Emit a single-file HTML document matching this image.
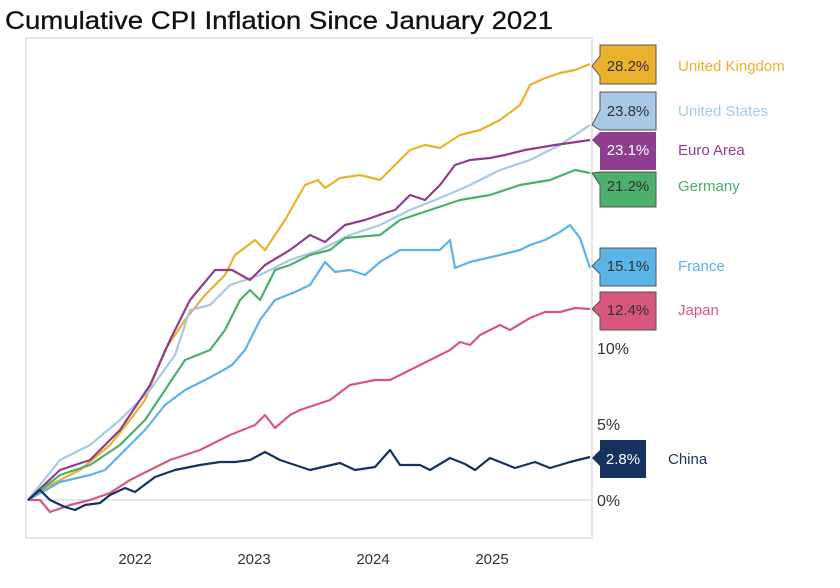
<!DOCTYPE html>
<html><head><meta charset="utf-8"><style>
body{margin:0;background:#fff;width:840px;height:588px;overflow:hidden}
svg{display:block;font-family:"Liberation Sans",sans-serif}
</style></head><body>
<svg width="840" height="588" viewBox="0 0 840 588">
<text x="5" y="29" font-size="25" fill="#111" stroke="#111" stroke-width="0.3" textLength="548" lengthAdjust="spacingAndGlyphs">Cumulative CPI Inflation Since January 2021</text>
<rect x="26" y="38" width="566" height="500" fill="none" stroke="#ddd" stroke-width="1.5"/>
<line x1="26" y1="500" x2="592" y2="500" stroke="#ddd" stroke-width="1.5"/>
<g font-size="16" fill="#333">
<text x="597" y="354">10%</text><text x="597" y="430">5%</text><text x="597" y="506">0%</text>
</g>
<g font-size="15" fill="#333">
<text x="135" y="564" text-anchor="middle">2022</text><text x="254" y="564" text-anchor="middle">2023</text>
<text x="373" y="564" text-anchor="middle">2024</text><text x="492" y="564" text-anchor="middle">2025</text>
</g>
<g fill="none" stroke-width="2.2" stroke-linejoin="round">
<polyline stroke="#eab12c" points="28,500 50,485 80,470 110,445 130,420 145,400 165,350 185,320 205,295 225,275 235,255 255,240 265,250 285,220 305,185 318,180 325,188 340,178 360,175 380,180 395,165 410,150 425,145 440,148 460,135 480,130 500,120 520,105 530,85 545,78 560,73 575,70 590,64"/>
<polyline stroke="#a9c8e6" points="28,500 60,460 90,445 120,420 150,390 175,355 190,310 210,305 230,285 260,275 290,260 320,250 350,235 380,225 410,210 440,198 470,185 500,170 530,160 560,145 590,125"/>
<polyline stroke="#8e3e8e" points="28,500 60,470 90,460 120,430 150,385 170,340 190,300 215,270 232,270 250,280 265,265 290,250 310,235 325,242 345,225 365,220 385,213 395,210 410,195 425,200 440,185 455,165 470,160 490,158 505,155 525,150 555,145 590,140"/>
<polyline stroke="#4caf6a" points="28,500 60,475 90,465 120,445 145,420 165,390 185,360 210,350 225,330 240,300 250,290 260,300 275,270 290,265 310,255 330,250 345,238 380,235 400,220 430,210 460,200 490,195 520,185 550,180 575,170 590,173"/>
<polyline stroke="#5ab4e8" points="28,500 60,482 90,475 105,470 125,450 145,430 165,405 185,390 205,380 220,372 232,365 245,350 260,320 275,300 295,292 310,285 325,262 335,272 350,270 365,275 380,262 400,250 440,250 450,240 455,268 470,262 500,255 520,250 530,245 545,240 560,232 570,225 580,238 590,268"/>
<polyline stroke="#d9577f" points="28,500 40,500 50,512 70,505 90,500 110,493 130,480 150,470 170,460 200,450 230,435 255,425 265,415 275,428 290,415 300,410 330,400 350,385 375,380 390,380 410,370 430,360 450,350 460,342 470,345 480,335 500,325 510,330 530,318 545,312 560,312 575,308 590,309"/>
<polyline stroke="#16325f" points="28,500 40,490 50,500 65,507 75,510 85,505 100,503 110,495 125,488 135,492 155,477 175,470 200,465 220,462 235,462 250,460 265,452 280,460 310,470 340,463 355,470 375,467 390,450 400,465 420,465 430,470 450,458 465,464 475,470 490,458 500,462 515,468 535,462 550,468 570,462 590,457"/>
</g>
<g font-size="15">
<path d="M592,66 L600,56 L600,45 L656,45 L656,84 L600,84 L600,76 Z" fill="#eab12c" stroke="#555"/><text x="628" y="71" text-anchor="middle" fill="#333">28.2%</text><text x="678" y="71" fill="#eab12c">United Kingdom</text>
<path d="M592,125 L600,110 L600,92 L656,92 L656,130 L600,130 Z" fill="#a9c8e6" stroke="#555"/><text x="628" y="116" text-anchor="middle" fill="#333">23.8%</text><text x="678" y="116" fill="#a9c8e6">United States</text>
<path d="M592,140 L600,132 L656,132 L656,170 L600,170 L600,148 Z" fill="#8e3e8e"/><text x="628" y="155" text-anchor="middle" fill="#fff">23.1%</text><text x="678" y="155" fill="#8e3e8e">Euro Area</text>
<path d="M592,173 L600,172 L656,172 L656,207 L600,207 L600,185 Z" fill="#4caf6a" stroke="#555"/><text x="628" y="191" text-anchor="middle" fill="#333">21.2%</text><text x="678" y="191" fill="#4caf6a">Germany</text>
<path d="M592,266 L600,258 L600,248 L656,248 L656,286 L600,286 L600,274 Z" fill="#5ab4e8" stroke="#555"/><text x="628" y="271" text-anchor="middle" fill="#333">15.1%</text><text x="678" y="271" fill="#5ab4e8">France</text>
<path d="M592,309 L600,301 L600,292 L656,292 L656,330 L600,330 L600,317 Z" fill="#d9577f" stroke="#555"/><text x="628" y="315" text-anchor="middle" fill="#333">12.4%</text><text x="678" y="315" fill="#d9577f">Japan</text>
<path d="M592,458 L600,450 L600,440 L646,440 L646,478 L600,478 L600,466 Z" fill="#16325f"/><text x="623" y="464" text-anchor="middle" fill="#fff">2.8%</text><text x="668" y="464" fill="#16325f">China</text>
</g>
</svg>
</body></html>
